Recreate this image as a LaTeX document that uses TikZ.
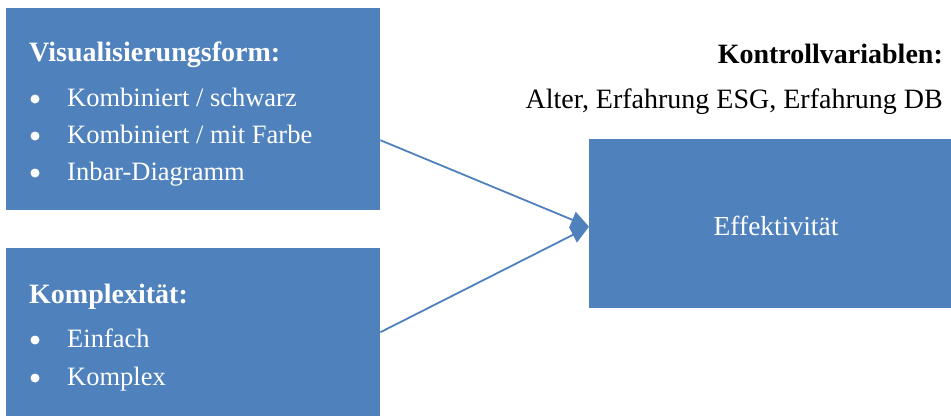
\documentclass[tikz,border=0pt]{standalone}
\usepackage{fontspec}
\setmainfont{Liberation Serif}
\usepackage{xcolor}
\usetikzlibrary{arrows.meta,positioning}
\definecolor{cbox}{HTML}{4F81BD}

\begin{document}
\begin{tikzpicture}[x=1pt,y=-1pt,>={Triangle[length=18pt,width=17pt]},
  block/.style={fill=cbox,draw=none,inner sep=0pt,anchor=north west},
  head/.style={font=\fontsize{28}{32}\selectfont\bfseries,inner sep=0pt,anchor=base west},
  item/.style={font=\fontsize{26.5}{30}\selectfont,text=white,inner sep=0pt,anchor=base west},
  dot/.style={circle,fill=white,inner sep=0pt,minimum size=9pt},
  conn/.style={->,cbox,line width=1.8pt}]
  \useasboundingbox (0,0) rectangle (951,416);
  % the three blocks
  \node[block,minimum width=374pt,minimum height=202pt] (form) at (6,8) {};
  \node[block,minimum width=374pt,minimum height=168pt] (komp) at (6,248) {};
  \node[block,minimum width=362pt,minimum height=169pt] (eff) at (589,139) {};
  \node[item,font=\fontsize{27.5}{30}\selectfont,anchor=base] (efftxt) at (776,235) {Effektivität};
  % headings and bullet lists
  \node[head,text=white] (formhead) at (29,61) {Visualisierungsform:};
  \foreach \y/\txt in {106/{Kombiniert / schwarz},143/{Kombiniert / mit Farbe},180/{Inbar-Diagramm}} {
    \node[dot] at (35,\y-7) {};
    \node[item] at (67,\y) {\txt};
  }
  \node[head,text=white] (kompHead) at (29,303) {Komplexität:};
  \foreach \y/\txt in {347/Einfach,385/Komplex} {
    \node[dot] at (35,\y-7) {};
    \node[item] at (67,\y) {\txt};
  }
  % control variables
  \node[head,anchor=base east] (kontroll) at (943,63) {Kontrollvariablen:};
  \node[item,font=\fontsize{28}{32}\selectfont,text=black,anchor=base east] (kontrolltxt) at (943,108) {Alter, Erfahrung ESG, Erfahrung DB};
  % connectors
  \coordinate (formout) at ([yshift=-31pt]form.east);
  \coordinate (kompout) at (komp.east);
  \coordinate (effin) at ([yshift=-3pt]eff.west);
  \draw[conn] (formout) -- (effin);
  \draw[conn] (kompout) -- (effin);
\end{tikzpicture}
\end{document}
